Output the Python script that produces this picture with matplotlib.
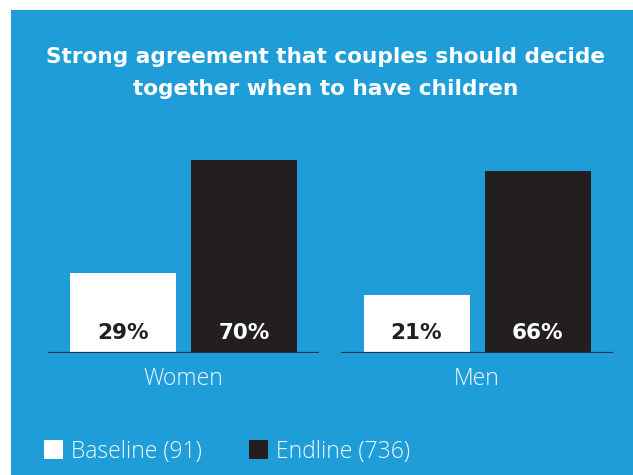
import matplotlib
matplotlib.use("Agg")
import matplotlib.pyplot as plt
from matplotlib.patches import Rectangle

# ---- data ----
categories = ["Women", "Men"]
baseline = [29, 21]
endline = [70, 66]
series_names = ["Baseline (91)", "Endline (736)"]
title = "Strong agreement that couples should decide\ntogether when to have children"

BLUE = "#1E9DD9"
DARK = "#231F20"
WHITE = "#FFFFFF"
TXT = "#F2FAFE"
W, H = 633, 475

fig = plt.figure(figsize=(W / 100, H / 100), dpi=100, facecolor="white")

def fx(x):
    return x / W

def fy(y):
    return 1 - y / H

# blue panel
fig.patches.append(Rectangle((fx(11), 0), 1 - fx(11), fy(10), transform=fig.transFigure,
                             facecolor=BLUE, edgecolor="none", zorder=-5))

# axes: group spacing 293.5 px, first group center at 183.5 px
unit = 293.5
ax = fig.add_axes([0, fy(353), 1, (353 - 9) / H])
ax.set_zorder(2)
ax.set_xlim(-183.5 / unit, (W - 183.5) / unit)
pxper = 193 / 70.0
ax.set_ylim(0, (353 - 9) / pxper)
ax.set_facecolor("none")
ax.axis("off")

bw = 106 / unit
off = 60.5 / unit
xs = list(range(len(categories)))
ax.bar([x - off for x in xs], baseline, width=bw, color=WHITE, zorder=2)
ax.bar([x + off for x in xs], endline, width=bw, color=DARK, zorder=2)
for x in xs:
    ax.hlines(0, x - 0.463, x + 0.463, color="#1C3446", lw=1.6, zorder=3)

lab_y = 20 / pxper
for x, b, e in zip(xs, baseline, endline):
    ax.text(x - off, lab_y, f"{b}%", ha="center", va="center", color=DARK,
            fontsize=15.5, fontweight="bold", family="DejaVu Sans", zorder=4)
    ax.text(x + off, lab_y, f"{e}%", ha="center", va="center", color=WHITE,
            fontsize=15.5, fontweight="bold", family="DejaVu Sans", zorder=4)
    ax.text(x, -26 / pxper, categories[x], ha="center", va="center", color=TXT,
            fontsize=16.5, fontweight="light", family="Open Sans", clip_on=False)

# title
fig.text(fx(326), fy(73), title, ha="center", va="center", color="white",
         fontsize=15.6, fontweight="bold", family="DejaVu Sans", linespacing=1.7,
         multialignment="center")

# legend
sq = 19
for (x0, col, name) in [(44, WHITE, series_names[0]), (249, DARK, series_names[1])]:
    fig.patches.append(Rectangle((fx(x0), fy(440 + sq)), sq / W, sq / H,
                                 transform=fig.transFigure, facecolor=col,
                                 edgecolor="none", zorder=2))
    fig.text(fx(x0 + 27), fy(452), name, ha="left", va="center", color=TXT,
             fontsize=16.5, fontweight="light", family="Open Sans")

fig.savefig("out.png", dpi=100, facecolor="white")
